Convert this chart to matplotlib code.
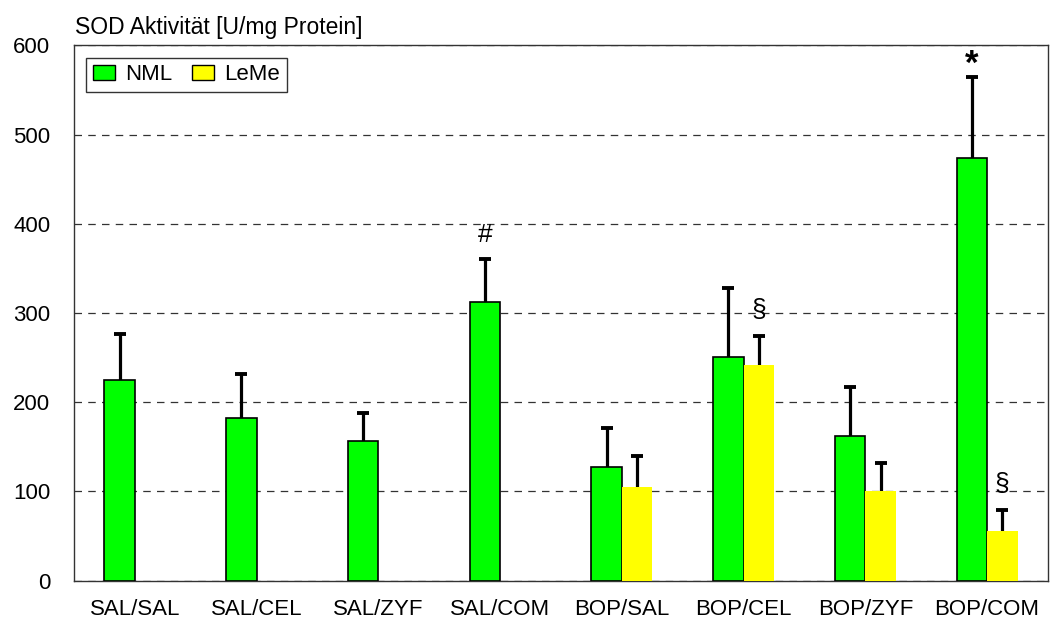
import matplotlib
matplotlib.use("Agg")
import matplotlib.pyplot as plt
import numpy as np

plt.rcParams['font.family'] = ['Liberation Sans', 'DejaVu Sans']

groups = ["SAL/SAL", "SAL/CEL", "SAL/ZYF", "SAL/COM",
          "BOP/SAL", "BOP/CEL", "BOP/ZYF", "BOP/COM"]
nml_mean = [225, 182, 157, 312, 128, 251, 162, 474]
nml_sd = [52, 50, 31, 49, 43, 77, 55, 91]
leme_groups = ["BOP/SAL", "BOP/CEL", "BOP/ZYF", "BOP/COM"]
leme_mean = [105, 242, 100, 56]
leme_sd = [35, 32, 32, 23]
y_ticks = [0, 100, 200, 300, 400, 500, 600]
# significance marks: (group, series, label, y position)
marks = [("SAL/COM", "NML", "#", 388),
         ("BOP/CEL", "LeMe", "§", 303),
         ("BOP/COM", "LeMe", "§", 108),
         ("BOP/COM", "NML", "*", 579)]

fig = plt.figure(figsize=(10.52, 6.19), dpi=100)
ax = fig.add_axes([0.0703, 0.0619, 0.9259, 0.8646])

x = np.arange(len(groups))
w = 0.25
xl = np.array([groups.index(g) for g in leme_groups])
x_nml = x - w / 2
x_leme = xl + w / 2

ax.bar(x_nml, nml_mean, width=w, color="#00ff00", edgecolor="black",
       linewidth=1.2, label="NML", zorder=3)
ax.bar(x_leme, leme_mean, width=w, color="#ffff00", edgecolor="none",
       linewidth=0, label="LeMe", zorder=3)


def upper_error(xs, means, sds):
    tops = np.asarray(means) + np.asarray(sds)
    ax.vlines(xs, means, tops, color="black", linewidth=2.3, zorder=2)
    ax.plot(xs, tops, linestyle="none", marker="_", markersize=8,
            markeredgewidth=2.8, color="black", zorder=2)


upper_error(x_nml, nml_mean, nml_sd)
upper_error(x_leme, leme_mean, leme_sd)

for g, s, lab, yv in marks:
    xp = groups.index(g) + (-w / 2 if s == "NML" else w / 2)
    if lab == "*":
        ax.text(xp, yv, lab, ha="center", va="center", fontsize=25,
                fontweight="bold", zorder=4)
    else:
        ax.text(xp, yv, lab, ha="center", va="center", fontsize=19, zorder=4)

ax.set_xlim(-0.5, len(groups) - 0.5)
ax.set_ylim(0, 600)
ax.set_yticks(y_ticks)
ax.set_xticks(x)
ax.set_xticklabels(groups)
ax.tick_params(axis="both", length=0, labelsize=16)
ax.tick_params(axis="x", pad=13)
ax.tick_params(axis="y", pad=17)
ax.yaxis.grid(True, linestyle=(0, (6, 5)), color="#333333", linewidth=0.9,
              zorder=0)
ax.set_axisbelow(True)
for sp in ax.spines.values():
    sp.set_color("#333333")
    sp.set_linewidth(1.0)

# axis title above the plot frame, left-aligned with the frame
fig.text(75 / 1052, (619 - 34) / 619, "SOD Aktivität [U/mg Protein]",
         fontsize=16.5, ha="left", va="baseline")

leg = ax.legend(loc="upper left", ncol=2, fontsize=16, frameon=True,
                fancybox=False, edgecolor="black", borderaxespad=0.55,
                handlelength=1.0, handleheight=0.6, handletextpad=0.45,
                columnspacing=0.9, borderpad=0.3)
leg.get_frame().set_linewidth(1.0)
for h in leg.legend_handles:
    h.set_edgecolor("black")
    h.set_linewidth(1.0)

fig.savefig("out.png", dpi=100)
